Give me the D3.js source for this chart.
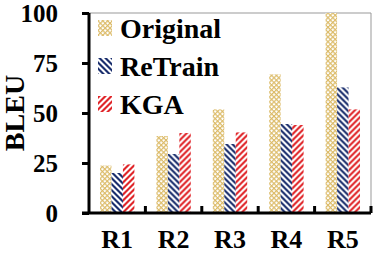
<!DOCTYPE html>
<html>
<head>
<meta charset="utf-8">
<script src="https://cdn.jsdelivr.net/npm/d3@7"></script>
<style>
body { margin: 0; background: #fff; }
svg text { font-family: "Liberation Serif", "Times New Roman", serif; font-weight: bold; fill: #000; }
</style>
</head>
<body>
<div id="chart"></div>
<script>
var categories = ["R1", "R2", "R3", "R4", "R5"];
var seriesNames = ["Original", "ReTrain", "KGA"];
var original = [23.7, 38.5, 51.8, 69.3, 100];
var retrain = [20, 29.5, 34.5, 44.5, 62.8];
var kga = [24.3, 40, 40.3, 44, 51.8];
var yTicks = [0, 25, 50, 75, 100];

var seriesValues = [original, retrain, kga];
var fills = ["url(#pOrig)", "url(#pRetrain)", "url(#pKga)"];

var width = 374, height = 255;
var margin = {top: 13, right: 3, bottom: 42, left: 89};

var svg = d3.select("#chart").append("svg")
    .attr("width", width)
    .attr("height", height);

// patterns
var defs = svg.append("defs");
var s = 3.4;
var po = defs.append("pattern")
    .attr("id", "pOrig")
    .attr("patternUnits", "userSpaceOnUse")
    .attr("width", s).attr("height", s)
    .attr("patternTransform", "rotate(45)");
po.append("rect").attr("width", s).attr("height", s).attr("fill", "#fff");
po.append("line").attr("x1", 0).attr("y1", 0.6).attr("x2", s).attr("y2", 0.6)
    .attr("stroke", "#dcbb68").attr("stroke-width", 1.2);
po.append("line").attr("x1", 0.6).attr("y1", 0).attr("x2", 0.6).attr("y2", s)
    .attr("stroke", "#dcbb68").attr("stroke-width", 1.2);

// diagonal stripes in a 6x6 tile, half coloured
var stripe = function(id, color, down) {
    var p = defs.append("pattern")
        .attr("id", id)
        .attr("patternUnits", "userSpaceOnUse")
        .attr("width", 6).attr("height", 6);
    p.append("rect").attr("width", 6).attr("height", 6).attr("fill", "#fff");
    var d = down
        ? "M0,0 L3,0 L6,3 L6,6Z M0,3 L3,6 L0,6Z"
        : "M0,0 L3,0 L0,3Z M6,0 L6,3 L3,6 L0,6Z";
    p.append("path").attr("d", d).attr("fill", color);
};
stripe("pRetrain", "#1b2f6e", true);
stripe("pKga", "#e0262a", false);

var x0 = d3.scaleBand()
    .domain(categories)
    .range([margin.left, width - margin.right])
    .paddingInner(0.39)
    .paddingOuter(0.195);

var x1 = d3.scaleBand()
    .domain(seriesNames)
    .range([0, x0.bandwidth()]);

var y = d3.scaleLinear()
    .domain([0, 100])
    .range([height - margin.bottom, margin.top]);

// frame (top and right)
svg.append("path")
    .attr("d", "M" + margin.left + "," + margin.top + "H" + (width - margin.right) + "V" + (height - margin.bottom))
    .attr("fill", "none")
    .attr("stroke", "#999")
    .attr("stroke-width", 1);

// bars
var groups = svg.selectAll("g.grp")
    .data(categories)
  .enter().append("g")
    .attr("class", "grp")
    .attr("transform", function(d) { return "translate(" + x0(d) + ",0)"; });

groups.selectAll("rect")
    .data(function(d, i) {
        return seriesNames.map(function(s, j) { return {name: s, val: seriesValues[j][i], k: j}; });
    })
  .enter().append("rect")
    .attr("x", function(d) { return x1(d.name); })
    .attr("y", function(d) { return y(d.val); })
    .attr("width", x1.bandwidth())
    .attr("height", function(d) { return y(0) - y(d.val); })
    .attr("fill", function(d) { return fills[d.k]; });

// y axis
var yAxis = svg.append("g")
    .attr("transform", "translate(" + margin.left + ",0)")
    .call(d3.axisLeft(y).tickValues(yTicks).tickSize(7).tickPadding(24));
yAxis.selectAll("path, line").attr("stroke", "#000").attr("stroke-width", 3);
yAxis.select("path").attr("d", "M0," + y(100) + "V" + y(0));
yAxis.selectAll("text").attr("font-size", 25).attr("dy", "0.33em")
    .style("font-family", "Liberation Serif").style("font-weight", "bold");

// x axis: ticks at category boundaries pointing up
var xAxis = svg.append("g");
xAxis.append("line")
    .attr("x1", margin.left - 7).attr("x2", width - margin.right)
    .attr("y1", y(0)).attr("y2", y(0))
    .attr("stroke", "#000").attr("stroke-width", 3);
var bounds = categories.map(function(c) { return x0(c) + x0.bandwidth() + x0.step() * x0.paddingOuter(); });
xAxis.selectAll("line.tk")
    .data(bounds)
  .enter().append("line")
    .attr("class", "tk")
    .attr("x1", function(d) { return d; }).attr("x2", function(d) { return d; })
    .attr("y1", y(0)).attr("y2", y(0) - 7)
    .attr("stroke", "#000").attr("stroke-width", 3);
xAxis.selectAll("text")
    .data(categories)
  .enter().append("text")
    .attr("x", function(d) { return x0(d) + x0.bandwidth() / 2; })
    .attr("y", 248)
    .attr("text-anchor", "middle")
    .attr("font-size", 26)
    .text(function(d) { return d; });

// y label
svg.append("text")
    .attr("transform", "translate(24,113) rotate(-90)")
    .attr("text-anchor", "middle")
    .attr("font-size", 28)
    .text("BLEU");

// legend
var legend = svg.selectAll("g.leg")
    .data(seriesNames)
  .enter().append("g")
    .attr("class", "leg")
    .attr("transform", function(d, i) { return "translate(98," + (20 + i * 38) + ")"; });
legend.append("rect")
    .attr("width", 14).attr("height", 16)
    .attr("fill", function(d, i) { return fills[i]; });
legend.append("text")
    .attr("x", 22).attr("y", 17.5)
    .attr("font-size", 28)
    .text(function(d) { return d; });
</script>
</body>
</html>
